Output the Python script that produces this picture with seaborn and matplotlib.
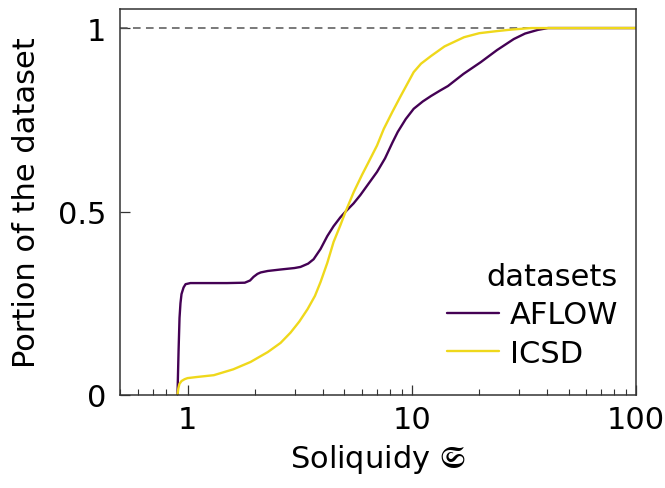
import numpy as np
import pandas as pd
import matplotlib
matplotlib.use("Agg")
import matplotlib.pyplot as plt
import seaborn as sns

# --- data ---
aflow_x = [0.902, 0.912, 0.921, 0.93, 0.94, 0.96, 0.98, 1.03, 1.2, 1.5, 1.80, 1.90, 1.97, 2.05, 2.12, 2.28,
           2.6, 3.0, 3.19, 3.45, 3.65, 3.92, 4.2, 4.48, 4.8, 5.07, 5.5, 5.9, 6.4, 7.0, 7.6, 8.2, 8.66, 9.4,
           10.2, 11.2, 12.2, 13.4, 14.5, 17.0, 20.3, 24.0, 28.5, 32.0, 36.5, 40.5, 60.0, 100.0]
aflow_y = [0.0, 0.12, 0.21, 0.25, 0.275, 0.293, 0.302, 0.305, 0.305, 0.305, 0.306, 0.312, 0.322, 0.330, 0.334, 0.338,
           0.342, 0.346, 0.349, 0.358, 0.370, 0.398, 0.433, 0.460, 0.484, 0.500, 0.522, 0.545, 0.575, 0.608, 0.645, 0.688, 0.717, 0.752,
           0.780, 0.800, 0.815, 0.830, 0.842, 0.875, 0.907, 0.940, 0.970, 0.985, 0.995, 1.0, 1.0, 1.0]

icsd_x = [0.902, 0.91, 0.92, 0.94, 0.97, 1.0, 1.1, 1.31, 1.6, 1.91, 2.28, 2.6, 2.88, 3.15, 3.43, 3.7, 3.92, 4.2, 4.48,
          4.8, 5.07, 5.51, 6.0, 6.36, 7.0, 7.5, 8.2, 8.93, 10.2, 11.0, 12.2, 14.0, 17.1, 20.0, 24.2, 28.0, 34.0, 50.0, 100.0]
icsd_y = [0.0, 0.018, 0.03, 0.038, 0.043, 0.046, 0.049, 0.054, 0.070, 0.090, 0.117, 0.142, 0.170, 0.200, 0.234, 0.270, 0.308, 0.360, 0.417,
          0.462, 0.500, 0.553, 0.600, 0.630, 0.680, 0.725, 0.772, 0.815, 0.880, 0.903, 0.924, 0.950, 0.975, 0.986, 0.992, 0.996, 1.0, 1.0, 1.0]

datasets = ["AFLOW", "ICSD"]
colors = ["#440154", "#efd81b"]
xtick_vals = [1, 10, 100]
xtick_labels = ["1", "10", "100"]
ytick_vals = [0, 0.5, 1]
ytick_labels = ["0", "0.5", "1"]

df = pd.concat([
    pd.DataFrame({"S": aflow_x, "frac": aflow_y, "datasets": "AFLOW"}),
    pd.DataFrame({"S": icsd_x, "frac": icsd_y, "datasets": "ICSD"}),
], ignore_index=True)

sns.set_theme(style="ticks")
plt.rcParams["font.family"] = ["DejaVu Sans"]
plt.rcParams["mathtext.fontset"] = "stix"
plt.rcParams["axes.linewidth"] = 1.1
plt.rcParams["axes.edgecolor"] = "#333333"
plt.rcParams["text.color"] = "black"
plt.rcParams["axes.labelcolor"] = "black"

FS = 22

fig = plt.figure(figsize=(6.65, 4.89), dpi=100)
ax = fig.add_axes([0.1805, 0.1902, 0.9564 - 0.1805, 0.9796 - 0.1902])

ax.axhline(1.0, color="#555555", lw=1.1, ls=(0, (5, 3.5)), zorder=1)

sns.lineplot(data=df, x="S", y="frac", hue="datasets", hue_order=datasets,
             palette=colors, lw=1.7, ax=ax, zorder=2)

ax.set_xscale("log")
ax.set_xlim(0.5, 100)
ax.set_ylim(0, 1.052)
ax.set_xticks(xtick_vals, labels=xtick_labels)
ax.set_yticks(ytick_vals, labels=ytick_labels)
ax.tick_params(axis="both", which="major", direction="in", length=7, width=0.9,
               labelsize=FS, colors="#333333", labelcolor="black")
ax.tick_params(axis="x", which="major", pad=7)
ax.tick_params(axis="y", which="major", pad=10)
ax.tick_params(axis="x", which="minor", direction="in", length=4, width=0.8, colors="#333333")
ax.tick_params(axis="y", which="minor", left=False)
for s in ["top", "right"]:
    ax.spines[s].set_visible(True)

ax.set_xlabel(r"Soliquidy $\mathfrak{S}$", fontsize=FS, labelpad=6)
ax.set_ylabel("Portion of the dataset", fontsize=FS, labelpad=12)

sns.move_legend(ax, "lower right", frameon=False, fontsize=FS, title="datasets",
                title_fontsize=FS, alignment="right", handlelength=1.73,
                handletextpad=0.33, labelspacing=0.31, borderaxespad=0.0,
                borderpad=0.0, bbox_to_anchor=(0.965, 0.07))

fig.savefig("out.png", dpi=100)
